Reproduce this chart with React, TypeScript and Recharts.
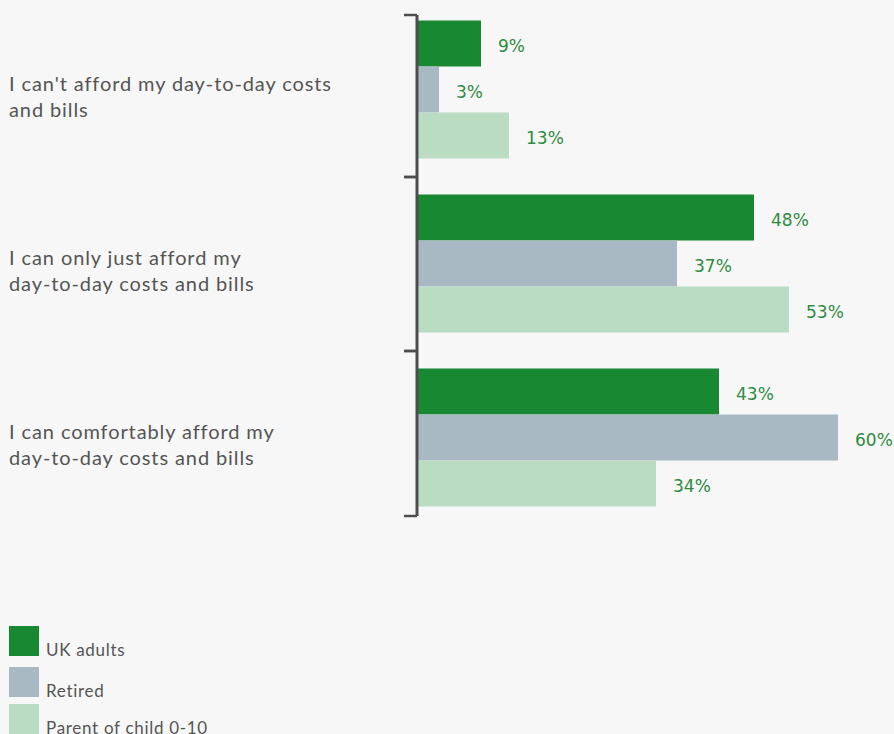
import React from 'react';
import { BarChart, Bar, XAxis, YAxis, Legend, LabelList } from 'recharts';

// answers per group, in %
const categories = [
  "I can't afford my day-to-day costs\nand bills",
  'I can only just afford my\nday-to-day costs and bills',
  'I can comfortably afford my\nday-to-day costs and bills',
];
const ukAdults = [9, 48, 43];
const retired = [3, 37, 60];
const parents = [13, 53, 34];

const seriesNames = ['UK adults', 'Retired', 'Parent of child 0-10'];
const seriesColors = ['#198832', '#a8b9c3', '#badcc3'];

const data = categories.map((name, i) => ({
  name,
  uk: ukAdults[i],
  retired: retired[i],
  parents: parents[i],
}));

const TEXT_GREY = '#555555';
const LABEL_GREEN = '#2e8b40';

const CategoryTick = (props: any) => {
  const { x, y, payload, index } = props;
  const lines = String(payload.value).split('\n');
  const half = payload.offset ?? 87;
  // bracket ends sit a bit inside the outer bands
  const top = y - half + (index === 0 ? 12 : 0);
  const bottom = y + half - (index === categories.length - 1 ? 9 : 0);
  const ax = x - 1;
  return (
    <g>
      <text fill={TEXT_GREY} fontFamily="Lato, sans-serif" fontSize={20} letterSpacing={0.9} textAnchor="start">
        {lines.map((line, i) => (
          <tspan key={i} x={9} y={y + 1 + i * 26}>
            {line}
          </tspan>
        ))}
      </text>
      <line x1={ax} x2={ax} y1={top} y2={bottom} stroke="#4d4d4d" strokeWidth={3} />
      <line x1={ax - 13} x2={ax} y1={top} y2={top} stroke="#4d4d4d" strokeWidth={2.5} />
      <line x1={ax - 13} x2={ax} y1={bottom} y2={bottom} stroke="#4d4d4d" strokeWidth={2.5} />
    </g>
  );
};

const LegendBox = () => (
  <div style={{ fontFamily: 'Lato, sans-serif', fontSize: 17, color: TEXT_GREY, letterSpacing: 0.7 }}>
    {seriesNames.map((name, i) => (
      <div key={name} style={{ display: 'flex', alignItems: 'flex-end', height: 30, marginBottom: i === 0 ? 11 : 7 }}>
        <div style={{ width: 30, height: 30, background: seriesColors[i], flexShrink: 0 }} />
        <span style={{ marginLeft: 7, lineHeight: '17px', position: 'relative', top: 2 }}>{name}</span>
      </div>
    ))}
  </div>
);

const pct = (v: any) => `${v}%`;

const valueLabel = (key: string) => (
  <LabelList
    dataKey={key}
    position="right"
    offset={17}
    formatter={pct}
    fill={LABEL_GREEN}
    fontFamily="DejaVu Sans, sans-serif"
    fontSize={17}
    dy={3}
  />
);

export default function App() {
  return (
    <div style={{ position: 'absolute', left: 0, top: 0, width: 894, height: 734, background: '#f7f7f7', overflow: 'hidden' }}>
      <BarChart
        width={894}
        height={734}
        data={data}
        layout="vertical"
        margin={{ top: 3, right: 21, bottom: 209, left: 0 }}
        barCategoryGap="10%"
        barGap={0}
      >
        <XAxis type="number" domain={[0, 65]} hide />
        <YAxis
          type="category"
          dataKey="name"
          width={418}
          axisLine={false}
          tickLine={false}
          tickSize={0}
          tickMargin={0}
          tick={<CategoryTick />}
          interval={0}
        />
        <Legend
          layout="vertical"
          align="center"
          verticalAlign="middle"
          content={<LegendBox />}
          wrapperStyle={{ left: 9, top: 626, width: 300 }}
        />
        <Bar dataKey="uk" name={seriesNames[0]} fill={seriesColors[0]} isAnimationActive={false}>
          {valueLabel('uk')}
        </Bar>
        <Bar dataKey="retired" name={seriesNames[1]} fill={seriesColors[1]} isAnimationActive={false}>
          {valueLabel('retired')}
        </Bar>
        <Bar dataKey="parents" name={seriesNames[2]} fill={seriesColors[2]} isAnimationActive={false}>
          {valueLabel('parents')}
        </Bar>
      </BarChart>
    </div>
  );
}
